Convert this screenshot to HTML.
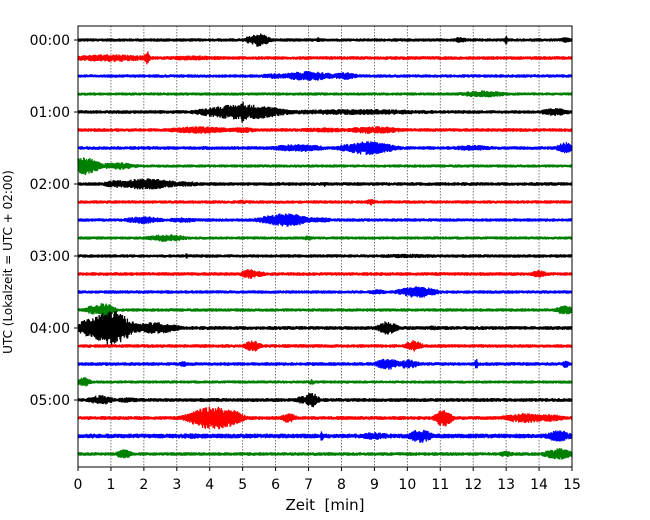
<!DOCTYPE html>
<html><head><meta charset="utf-8">
<style>
html,body{margin:0;padding:0;background:#fff;}
svg{display:block;font-family:"DejaVu Sans","Liberation Sans",sans-serif;}
</style></head>
<body>
<svg id="chart" width="650" height="520" viewBox="0 0 650 520">
  <rect x="0" y="0" width="650" height="520" fill="#fff"/>
  <g id="grid"></g>
  <g id="traces"></g>
  <rect x="78" y="26" width="494" height="441" fill="none" stroke="#000" stroke-width="1"/>
  <g id="xaxis"></g>
  <g id="yaxis"></g>
  <text x="325" y="510" text-anchor="middle" font-size="15">Zeit&#160;&#160;[min]</text>
  <text transform="translate(12,262) rotate(-90)" text-anchor="middle" font-size="12">UTC (Lokalzeit = UTC + 02:00)</text>
</svg>
<script>
const xTicks = [0,1,2,3,4,5,6,7,8,9,10,11,12,13,14,15];
const yTickLabels = ["00:00","01:00","02:00","03:00","04:00","05:00"];
const rowCount = 24;
const rowColors = ["#000000","#ff0000","#0000ff","#008000"];
// per-row base noise amplitude (px)
const baseNoise = [1.7,1.8,1.7,1.6,1.8,1.8,1.8,1.6,1.8,1.7,1.7,1.6,1.7,1.8,1.7,1.7,1.9,1.8,1.8,1.6,1.9,1.9,2.4,1.8];
// events: [row, minute, amplitude px, width min]
const events = [
 [0,5.5,7,0.6],[0,5.2,4,0.3],[0,7.3,3,0.1],[0,11.6,3,0.5],[0,13.0,5,0.08],[0,14.8,3,0.4],
 [1,1.0,4,2.6],[1,2.1,7,0.15],[1,3.5,2.6,2.5],
 [2,7.0,5,1.6],[2,8.1,4,0.8],[2,6.0,3,1.0],
 [3,12.3,3.5,1.6],
 [4,5.0,8,2.4],[4,5.0,12,0.15],[4,8.5,3,6],[4,14.5,4,1.0],
 [5,3.7,4,2.0],[5,5.0,3,1.0],[5,9.0,4,1.8],[5,7.5,2.6,2],
 [6,6.7,4,1.8],[6,8.8,7,1.6],[6,14.8,6,0.5],[6,12.0,3,1.5],
 [7,0.2,9,0.9],[7,1.2,4,1.2],
 [8,2.1,6,1.8],[8,1.2,4,1.0],[8,3.2,3,1.2],[8,7.5,3,0.1],
 [9,8.9,3.5,0.3],[9,5.0,2.2,0.5],
 [10,6.3,7,1.5],[10,7.3,3,1.0],[10,2.0,4,1.2],[10,3.2,3,1.0],
 [11,2.7,4,1.2],[11,7.0,3,0.3],
 [12,3.3,3,0.1],[12,10.0,2.2,3],
 [13,5.2,5,0.5],[13,14.0,4,0.5],[13,5.5,3,0.5],
 [14,10.3,6,1.2],[14,9.1,3,0.6],
 [15,0.8,8,0.6],[15,0.4,5,0.4],[15,14.8,5,0.6],
 [16,1.0,18,1.2],[16,0.4,10,0.8],[16,2.3,6,1.5],[16,9.4,7,0.6],[16,10.8,2.6,0.5],
 [17,5.3,6,0.5],[17,10.2,6,0.5],
 [18,9.4,6,0.7],[18,10.0,5,0.7],[18,12.1,5,0.12],[18,14.8,4,0.25],[18,3.2,3,0.3],
 [19,0.2,5,0.4],[19,7.1,3,0.2],
 [20,0.7,5,0.8],[20,7.1,8,0.4],[20,6.8,4,0.4],[20,1.5,3,0.8],
 [21,4.1,12,1.4],[21,4.6,9,0.8],[21,6.4,5,0.5],[21,11.1,9,0.5],[21,13.6,5,1.5],[21,14.3,4,1.0],
 [22,7.4,6,0.1],[22,9.0,4,1.0],[22,10.4,7,0.7],[22,14.6,6,0.8],[22,3.5,3,1.5],
 [23,1.4,5,0.5],[23,14.6,6,0.9],[23,13.0,3,0.6]
];
const X0=78, X1=572, Y0=40, DY=18;
function xs(m){return X0+(X1-X0)*m/15;}
function ys(r){return Y0+r*DY;}
const NS="http://www.w3.org/2000/svg";
const grid=document.getElementById('grid');
const xaxis=document.getElementById('xaxis');
const yaxis=document.getElementById('yaxis');
const traces=document.getElementById('traces');
xTicks.forEach(function(t){
  if(t>0&&t<15){
    const l=document.createElementNS(NS,'line');
    l.setAttribute('x1',xs(t));l.setAttribute('x2',xs(t));
    l.setAttribute('y1',26);l.setAttribute('y2',467);
    l.setAttribute('stroke','#555');l.setAttribute('stroke-width','0.8');l.setAttribute('stroke-dasharray','1.5,1.5');
    
    
    grid.appendChild(l);
  }
  const tk=document.createElementNS(NS,'line');
  tk.setAttribute('x1',xs(t));tk.setAttribute('x2',xs(t));tk.setAttribute('y1',467);tk.setAttribute('y2',471);
  tk.setAttribute('stroke','#000');
  
  
  xaxis.appendChild(tk);
  const tx=document.createElementNS(NS,'text');
  tx.setAttribute('x',xs(t));tx.setAttribute('y',489);tx.setAttribute('text-anchor','middle');tx.setAttribute('font-size','14');
  tx.textContent=t;
  
  
  xaxis.appendChild(tx);
});
yTickLabels.forEach(function(lab,i){
  const y=ys(i*4);
  const tk=document.createElementNS(NS,'line');
  tk.setAttribute('x1',74);tk.setAttribute('x2',78);tk.setAttribute('y1',y);tk.setAttribute('y2',y);
  tk.setAttribute('stroke','#000');
  
  
  yaxis.appendChild(tk);
  const tx=document.createElementNS(NS,'text');
  tx.setAttribute('x',70);tx.setAttribute('y',y+5);tx.setAttribute('text-anchor','end');tx.setAttribute('font-size','14');
  tx.textContent=lab;
  
  
  yaxis.appendChild(tx);
});
// deterministic texture generator (waveform texture only)
let seed=12345;
function rnd(){seed=(seed*1103515245+12345)%2147483648;return seed/2147483648;}
for(let r=0;r<rowCount;r++){
  const evs=events.filter(function(e){return e[0]===r;});
  const N=1400;
  let pts=[];
  for(let i=0;i<=N;i++){
    const m=15*i/N;
    let env=baseNoise[r];
    evs.forEach(function(e){
      const s=e[3]/2.5;
      const g=e[2]*Math.exp(-0.5*Math.pow((m-e[1])/s,2));
      if(g>env)env=g;
    });
    const sign=(i%2===0)?1:-1;
    const v=sign*env*(0.45+0.55*rnd());
    pts.push(xs(m).toFixed(2)+','+(ys(r)-v).toFixed(2));
  }
  const p=document.createElementNS(NS,'polyline');
  p.setAttribute('points',pts.join(' '));
  p.setAttribute('fill','none');
  p.setAttribute('stroke',rowColors[r%4]);
  p.setAttribute('stroke-width','1.3');
  
  
  traces.appendChild(p);
}
</script>
</body></html>
